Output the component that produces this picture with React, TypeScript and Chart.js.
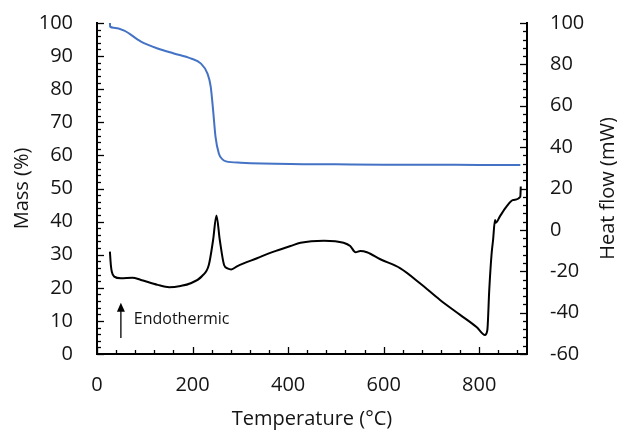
import React, { useEffect, useRef } from 'react';
import { Chart, registerables } from 'chart.js';

Chart.register(...registerables);

// Mass (%) vs temperature (left axis)
const massTemp = [27, 27.5, 35, 57, 92, 127, 161, 196, 217, 231, 238, 243, 248, 255, 262, 270, 301, 405, 500, 600, 700, 800, 886];
const massValues = [100, 98.9, 98.6, 97.7, 94.4, 92.3, 90.8, 89.3, 87.8, 84.8, 80.8, 73.7, 65.7, 60.6, 58.9, 58.2, 57.8, 57.4, 57.3, 57.2, 57.2, 57.1, 57.1];

// Heat flow (mW) vs temperature (right axis)
const heatTemp = [27, 29, 31, 36, 50, 74, 92, 127, 151, 175, 196, 220, 234, 243, 250, 257, 266, 273, 281, 294, 335, 370, 405, 426, 475, 516, 530, 541, 551, 565, 593, 635, 676, 718, 760, 795, 812, 817, 821, 826, 829, 833, 835, 843, 857, 871, 886, 887];
const heatValues = [-10.5, -17, -20.2, -22.6, -23.4, -23.1, -24.2, -26.6, -27.7, -27.1, -25.8, -22.3, -17, -4.9, 7, -4.9, -17, -18.6, -19.1, -17.5, -13.7, -10.5, -7.8, -6.2, -5.2, -6.2, -7.8, -10.8, -10.2, -10.8, -14.2, -18.6, -25.8, -33.9, -41.1, -47.1, -50.8, -48.4, -29, -11.3, -4.9, 4.8, 3.5, 6.4, 11.2, 14.4, 16, 21];

const xTicks = [0, 200, 400, 600, 800];
const yLeftTicks = [0, 10, 20, 30, 40, 50, 60, 70, 80, 90, 100];
const yRightTicks = [-60, -40, -20, 0, 20, 40, 60, 80, 100];

const FONT = '"Open Sans", "DejaVu Sans", sans-serif';
const TXT = '#141414';

const zeroPad = (s: any) => {
  s.paddingTop = 0;
  s.paddingBottom = 0;
  s.paddingLeft = 0;
  s.paddingRight = 0;
};

const customPlugin = {
  id: 'custom',
  afterDraw(chart: any) {
    const { ctx, chartArea: a, scales } = chart;
    const x = scales.x, y = scales.y, y2 = scales.y2;
    ctx.save();
    ctx.strokeStyle = '#000';
    ctx.lineWidth = 1.3;
    for (let v = 0; v <= 880; v += 40) {
      const px = Math.round(x.getPixelForValue(v)) + 0.5;
      const len = v % 200 === 0 ? 7 : 4;
      ctx.beginPath();
      ctx.moveTo(px, a.bottom);
      ctx.lineTo(px, a.bottom - len);
      ctx.stroke();
    }
    for (let v = 0; v <= 100; v += 2) {
      const py = Math.round(y.getPixelForValue(v)) + 0.5;
      const len = v % 10 === 0 ? 7 : 4;
      ctx.beginPath();
      ctx.moveTo(a.left, py);
      ctx.lineTo(a.left + len, py);
      ctx.stroke();
    }
    for (let v = -60; v <= 100; v += 4) {
      const py = Math.round(y2.getPixelForValue(v)) + 0.5;
      const len = v % 20 === 0 ? 7 : 4;
      ctx.beginPath();
      ctx.moveTo(a.right, py);
      ctx.lineTo(a.right - len, py);
      ctx.stroke();
    }
    // Endothermic arrow
    const ax = x.getPixelForValue(50);
    const yb = y.getPixelForValue(4.8);
    const yt = y.getPixelForValue(15.5);
    ctx.beginPath();
    ctx.moveTo(ax, yb);
    ctx.lineTo(ax, yt + 8);
    ctx.stroke();
    ctx.fillStyle = '#000';
    ctx.beginPath();
    ctx.moveTo(ax, yt);
    ctx.lineTo(ax - 4, yt + 9);
    ctx.lineTo(ax + 4, yt + 9);
    ctx.closePath();
    ctx.fill();
    ctx.fillStyle = TXT;
    ctx.font = `16px ${FONT}`;
    ctx.textAlign = 'left';
    ctx.textBaseline = 'middle';
    ctx.fillText('Endothermic', x.getPixelForValue(77), y.getPixelForValue(10.3));
    // right axis title (reads bottom to top)
    ctx.save();
    ctx.translate(608, (a.top + a.bottom) / 2);
    ctx.rotate(-Math.PI / 2);
    ctx.font = `20px ${FONT}`;
    ctx.textAlign = 'center';
    ctx.textBaseline = 'middle';
    ctx.fillText('Heat flow (mW)', 0, 0);
    ctx.restore();
    ctx.restore();
  },
};

export default function App() {
  const ref = useRef<HTMLCanvasElement>(null);
  useEffect(() => {
    const massData = massTemp.map((t, i) => ({ x: t, y: massValues[i] }));
    const heatData = heatTemp.map((t, i) => ({ x: t, y: heatValues[i] }));
    const tickFont = { family: FONT, size: 20 };
    const titleFont = { family: FONT, size: 20, lineHeight: 1 };
    const chart = new Chart(ref.current as HTMLCanvasElement, {
      type: 'line',
      data: {
        datasets: [
          {
            label: 'Mass',
            data: massData,
            yAxisID: 'y',
            borderColor: '#4472C4',
            borderWidth: 2,
            pointRadius: 0,
            cubicInterpolationMode: 'monotone',
            fill: false,
          },
          {
            label: 'Heat flow',
            data: heatData,
            yAxisID: 'y2',
            borderColor: '#000000',
            borderWidth: 2,
            pointRadius: 0,
            cubicInterpolationMode: 'monotone',
            fill: false,
          },
        ],
      },
      options: {
        animation: false,
        responsive: false,
        maintainAspectRatio: false,
        layout: { padding: { top: 23, left: 0, right: 0, bottom: 0 } },
        plugins: { legend: { display: false }, tooltip: { enabled: false } },
        scales: {
          x: {
            type: 'linear',
            min: 0,
            max: 900,
            afterBuildTicks: (s: any) => { s.ticks = xTicks.map((v) => ({ value: v })); },
            afterFit: (s: any) => { s.height = 76; zeroPad(s); },
            grid: { display: false, drawTicks: false },
            border: { display: true, color: '#000', width: 2 },
            ticks: { font: tickFont, color: TXT, padding: 19, maxRotation: 0 },
            title: { display: true, text: 'Temperature (°C)', font: titleFont, color: TXT, padding: { top: 0, bottom: 1 } },
          },
          y: {
            type: 'linear',
            position: 'left',
            min: 0,
            max: 100,
            afterBuildTicks: (s: any) => { s.ticks = yLeftTicks.map((v) => ({ value: v })); },
            afterFit: (s: any) => { s.width = 97; zeroPad(s); },
            grid: { display: false, drawTicks: false },
            border: { display: true, color: '#000', width: 2 },
            ticks: { font: tickFont, color: TXT, padding: 24 },
            title: { display: true, text: 'Mass (%)', font: titleFont, color: TXT, padding: { top: 12, bottom: 0 } },
          },
          y2: {
            type: 'linear',
            position: 'right',
            min: -60,
            max: 100,
            afterBuildTicks: (s: any) => { s.ticks = yRightTicks.map((v) => ({ value: v })); },
            afterFit: (s: any) => { s.width = 90; zeroPad(s); },
            grid: { display: false, drawTicks: false },
            border: { display: true, color: '#000', width: 2 },
            ticks: { font: tickFont, color: TXT, padding: 23 },
            title: { display: false },
          },
        },
      },
      plugins: [customPlugin],
    } as any);
    return () => chart.destroy();
  }, []);
  return (
    <div style={{ position: 'absolute', left: 0, top: 0, width: 617, height: 430, background: '#fff' }}>
      <canvas ref={ref} width={617} height={430} />
    </div>
  );
}
